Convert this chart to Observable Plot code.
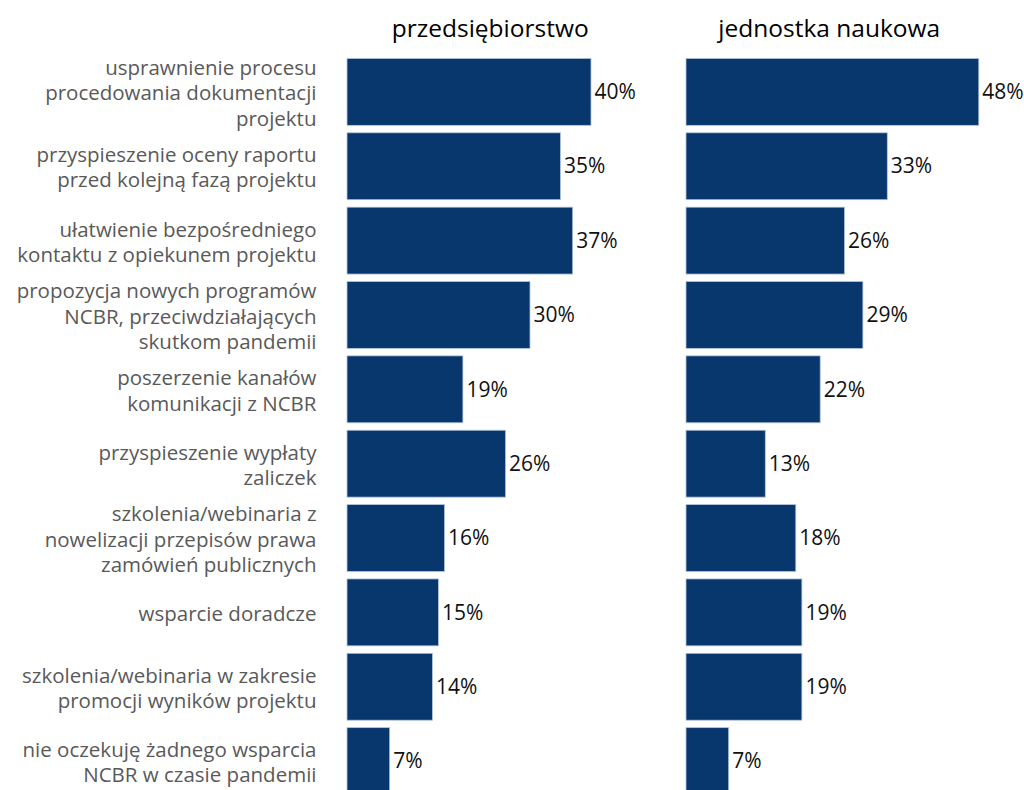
<!DOCTYPE html>
<html>
<head>
<meta charset="utf-8">
<script src="https://cdn.jsdelivr.net/npm/d3@7"></script>
<script src="https://cdn.jsdelivr.net/npm/@observablehq/plot@0.6"></script>
<style>
html, body { margin: 0; padding: 0; overflow: hidden; background: #fff; }
</style>
</head>
<body>
<div id="chart"></div>
<script>
const categories = [
  "usprawnienie procesu\nprocedowania dokumentacji\nprojektu",
  "przyspieszenie oceny raportu\nprzed kolejną fazą projektu",
  "ułatwienie bezpośredniego\nkontaktu z opiekunem projektu",
  "propozycja nowych programów\nNCBR, przeciwdziałających\nskutkom pandemii",
  "poszerzenie kanałów\nkomunikacji z NCBR",
  "przyspieszenie wypłaty\nzaliczek",
  "szkolenia/webinaria z\nnowelizacji przepisów prawa\nzamówień publicznych",
  "wsparcie doradcze",
  "szkolenia/webinaria w zakresie\npromocji wyników projektu",
  "nie oczekuję żadnego wsparcia\nNCBR w czasie pandemii"
];
const groups = ["przedsiębiorstwo", "jednostka naukowa"];
const przedsiebiorstwo = [40, 35, 37, 30, 19, 26, 16, 15, 14, 7];
const jednostkaNaukowa = [48, 33, 26, 29, 22, 13, 18, 19, 19, 7];

const data = [];
categories.forEach((c, i) => {
  data.push({cat: c, group: groups[0], value: przedsiebiorstwo[i]});
  data.push({cat: c, group: groups[1], value: jednostkaNaukowa[i]});
});

const chart = Plot.plot({
  width: 1024,
  height: 802,
  marginLeft: 347,
  marginRight: 8.6,
  marginTop: 51,
  marginBottom: 0,
  style: {fontFamily: "'Open Sans', sans-serif", background: "#fff"},
  fx: {domain: groups, paddingInner: 0.0283, paddingOuter: 0, round: false, label: null, axis: null},
  x: {domain: [0, 54], axis: null},
  y: {domain: categories, padding: 0.1, round: false, label: null, axis: null},
  marks: [
    Plot.axisFx({anchor: "top", tickSize: 0, tickPadding: 15, fontSize: 24.5,
      color: "#000", label: null, dx: -22}),
    Plot.axisY({
      anchor: "left", tickSize: 0, tickPadding: 31, fontSize: 20.5,
      color: "#595959", label: null, lineHeight: 1.23, facetAnchor: "left"
    }),
    Plot.barX(data, {x: "value", y: "cat", fx: "group", fill: "#08376e",
      stroke: "#b4c6dc", strokeWidth: 0.8}),
    Plot.text(data, {x: "value", y: "cat", fx: "group", text: d => d.value + "%",
      textAnchor: "start", dx: 3, fontSize: 21, fill: "#111"})
  ]
});
document.getElementById("chart").appendChild(chart);
</script>
</body>
</html>
